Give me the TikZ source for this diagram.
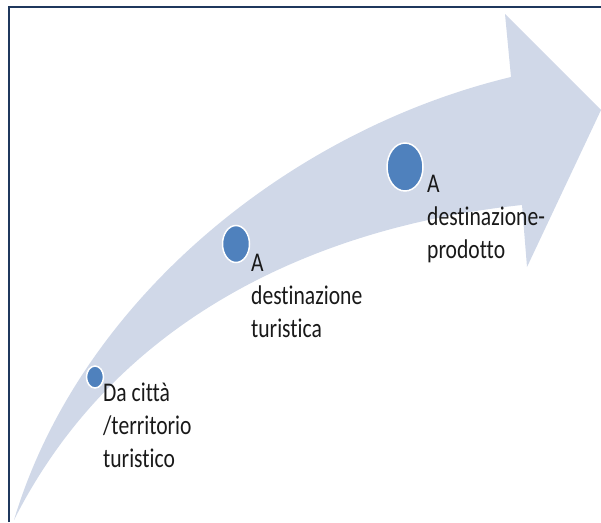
\documentclass[tikz,border=0pt]{standalone}
\usepackage{fontspec}
\setmainfont{Carlito}[Ligatures=NoCommon]
\usepackage{tikz}
\usetikzlibrary{shapes.geometric}
\definecolor{arrowfill}{RGB}{208,216,232}
\definecolor{dotblue}{RGB}{79,129,189}
\definecolor{framenavy}{RGB}{31,56,93}
\definecolor{textgray}{RGB}{25,25,25}

\begin{document}
\begin{tikzpicture}[x=1pt,y=-1pt,
    dot/.style={ellipse,fill=dotblue,draw=white,line width=1.5pt,inner sep=0pt},
    lbl/.style={anchor=north west,inner sep=0pt,align=left,xscale=0.8,
        font=\fontsize{27}{33}\selectfont,text=textgray}]
    \useasboundingbox (0,0) rectangle (601,522);

    % frame
    \draw[framenavy,line width=2.7pt] (9,522) -- (9,7) -- (601,7);

    % curved arrow
    \fill[arrowfill] (14,520) .. controls (80,300) and (290,130) .. (511,77)
        -- (505,14) -- (601,110) -- (527,267) -- (522,205)
        .. controls (330,225) and (120,310) .. (14,520) -- cycle;

    % steps
    \node[dot,minimum width=17pt,minimum height=22pt] (dotcity) at (95,377) {};
    \node[dot,minimum width=27pt,minimum height=37pt] (dotdest) at (236,244) {};
    \node[dot,minimum width=36pt,minimum height=48pt] (dotprod) at (405,167) {};

    \node[lbl] (lblcity) at (103,383) {Da città\\/territorio\\turistico};
    \node[lbl] (lbldest) at (251,254) {A\\destinazione\\turistica};
    \node[lbl] (lblprod) at (427,175) {A\\destinazione-\\prodotto};
\end{tikzpicture}
\end{document}
